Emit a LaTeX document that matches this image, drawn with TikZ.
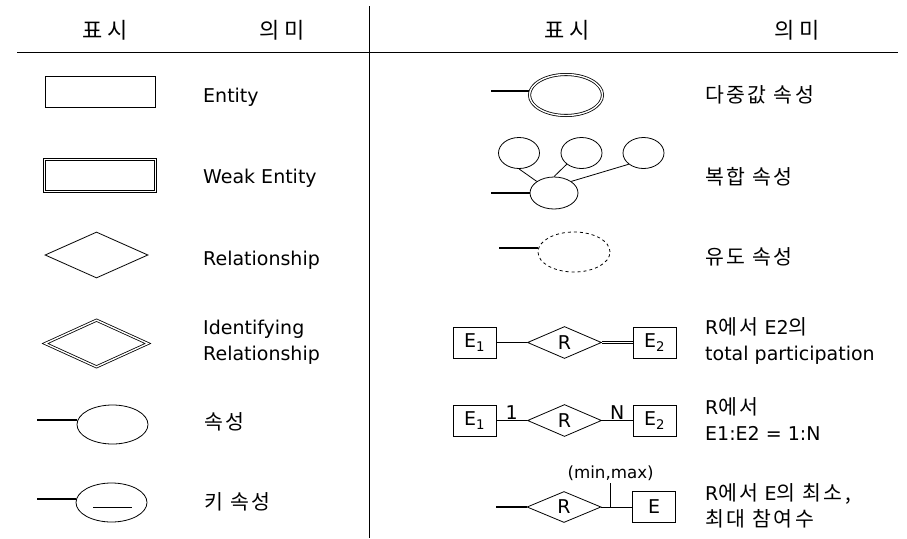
\documentclass[tikz,border=0pt]{standalone}
\usepackage{fontspec}
\setmainfont{DejaVu Sans}
\newfontfamily\kr[LetterSpace=12]{Noto Sans CJK KR}
\newfontfamily\krhead[LetterSpace=22]{Noto Sans CJK KR}
\newcommand{\hangul}[1]{{\kr\fontsize{20.5}{26}\selectfont #1}}
\usetikzlibrary{shapes.geometric}
\tikzstyle{entity} = [draw=black,rectangle,line width=0.8pt,inner sep=0pt,minimum width=43pt,minimum height=31pt,font=\fontsize{19}{23}\selectfont]
\tikzstyle{weak} = [entity,double,double distance=1.4pt,minimum width=111pt,minimum height=32pt]
\tikzstyle{rel} = [draw=black,diamond,line width=0.8pt,inner sep=0pt,minimum width=74pt,minimum height=32pt,font=\fontsize{19}{23}\selectfont]
\tikzstyle{idrel} = [rel,double,double distance=1.4pt,minimum width=103pt,minimum height=47pt]
\tikzstyle{attr} = [draw=black,ellipse,line width=0.8pt,inner sep=0pt,minimum width=71pt,minimum height=39pt]
\tikzstyle{multi} = [attr,double,double distance=1.4pt,minimum width=73pt,minimum height=41pt]
\tikzstyle{part} = [attr,minimum width=41pt,minimum height=31pt]
\tikzstyle{data} = [align=left,inner sep=0pt,font=\fontsize{19}{26}\selectfont]
\tikzstyle{head} = [font=\krhead\fontsize{22}{26}\selectfont]
\tikzstyle{lbl} = [inner sep=1pt,font=\fontsize{19}{23}\selectfont]
\tikzstyle{link} = [line width=0.8pt]
\tikzstyle{stub} = [line width=1.6pt]
\begin{document}
\begin{tikzpicture}[x=1pt,y=-1pt,node distance=90pt]
\useasboundingbox (0,0) rectangle (907,538);
% table frame
\draw [link] (17,52) -- (898,52);
\draw [link] (369,6) -- (369,538);
\node (sym1) [head] at (105,30) {표시};
\node (mean1) [head] at (282,30) {의미};
\node (sym2) [head] at (567,30) {표시};
\node (mean2) [head] at (797,30) {의미};
% left column
\node (ent) [entity,minimum width=110pt] at (100,91.5) {};
\node (weak) [weak] at (100,175.5) {};
\node (rel) [rel,minimum width=103pt,minimum height=46pt] at (96.5,255) {};
\node (idrel) [idrel] at (96.5,343.5) {};
\node (attr) [attr] at (112.5,424.5) {};
\node (key) [attr] at (111.5,502.5) {};
\coordinate (astub) at (37,420);
\coordinate (kstub) at (37,499);
\draw [stub] (astub) -- (astub -| attr.west);
\draw [stub] (kstub) -- (kstub -| key.west);
\draw [link] ([shift={(-18.5,4.5)}]key.center) -- ([shift={(20.5,4.5)}]key.center);
\node (ent_t) [data,anchor=base west] at (203,102) {Entity};
\node (weak_t) [data,anchor=base west] at (203,183) {Weak Entity};
\node (rel_t) [data,anchor=base west] at (203,265) {Relationship};
\node (idrel_t) [data,anchor=west] at (203,342) {Identifying\\Relationship};
\node (attr_t) [data,anchor=west] at (204,422) {\hangul{속성}};
\node (key_t) [data,anchor=west] at (204,502) {\hangul{키 속성}};
% right column
\node (multi) [multi] at (566,95) {};
\coordinate (mstub) at (491,91);
\draw [stub] (mstub) -- (mstub -| multi.west);
\node (comp) [attr,minimum width=48pt,minimum height=32pt] at (554,193) {};
\node (sub1) [part] at (519,153) {};
\node (sub2) [part] at (581.5,153) {};
\node (sub3) [part] at (643.5,153) {};
\coordinate (cstub) at (491,193);
\draw [stub] (cstub) -- (comp.west);
\draw [link] (sub1.south) -- (comp.north west);
\draw [link] (sub2.south west) -- (comp.north);
\draw [link] (sub3.south west) -- (comp.north east);
\node (derived) [attr,dashed,minimum width=72pt,minimum height=40pt] at (574,252) {};
\coordinate (dstub) at (499,248);
\draw [stub] (dstub) -- (dstub -| derived.west);
% participation rows
\node (e1a) [entity] at (474.5,342.5) {E\textsubscript{1}};
\node (r1) [rel,right of=e1a] {R};
\node (e2a) [entity,right of=r1] {E\textsubscript{2}};
\draw [link] (e1a) -- (r1);
\draw [link,double,double distance=1.6pt] (r1) -- (e2a);
\node (e1b) [entity] at (474.5,420.5) {E\textsubscript{1}};
\node (r2) [rel,right of=e1b] {R};
\node (e2b) [entity,right of=r2] {E\textsubscript{2}};
\draw [link] (e1b) -- node[lbl,above] (one) {1} (r2);
\draw [link] (r2) -- node[lbl,above] (many) {N} (e2b);
\coordinate (rstub) at (496,507);
\node (r3) [rel,minimum height=31pt] at (564,507) {R};
\node (e3) [entity,right of=r3] {E};
\draw [stub] (rstub) -- (r3);
\draw [link] (r3) -- coordinate[pos=0.3] (mm) (e3);
\draw [link] (mm) -- ++(0,-24) node[above,inner sep=2pt,font=\fontsize{16.7}{20}\selectfont] (mm_t) {(min,max)};
\node (multi_t) [data,anchor=west] at (705,95) {\hangul{다중값 속성}};
\node (comp_t) [data,anchor=west] at (705,177) {\hangul{복합 속성}};
\node (derived_t) [data,anchor=west] at (705,257) {\hangul{유도 속성}};
\node (total_t) [data,anchor=west] at (705,341) {R\hangul{에서} E2\hangul{의}\\total participation};
\node (ratio_t) [data,anchor=west] at (705,419.5) {R\hangul{에서}\\E1:E2 = 1:N};
\node (minmax_t) [data,anchor=west] at (705,506) {R\hangul{에서} E\hangul{의 최소,}\\\hangul{최대 참여수}};
\end{tikzpicture}
\end{document}
